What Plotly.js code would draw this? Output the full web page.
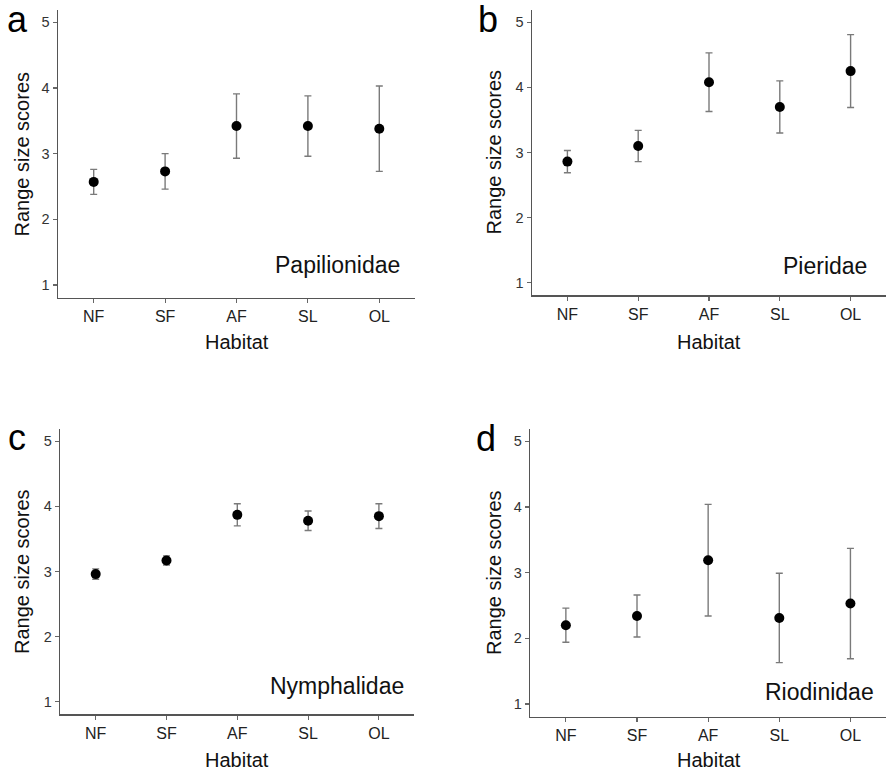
<!DOCTYPE html>
<html>
<head>
<meta charset="utf-8">
<script src="https://cdn.plot.ly/plotly-3.0.1.min.js"></script>
<style>
  html, body { margin: 0; padding: 0; background: #ffffff; }
  #chart { width: 886px; height: 773px; }
</style>
</head>
<body>
<div id="chart"></div>
<script>
// Habitat categories shared by all four panels
const habitats = ['NF', 'SF', 'AF', 'SL', 'OL'];

// Mean range size score per habitat and its error (one per family)
const papilionidaeMean = [2.57, 2.73, 3.42, 3.42, 3.38];
const papilionidaeErr  = [0.19, 0.27, 0.49, 0.46, 0.65];

const pieridaeMean = [2.86, 3.10, 4.08, 3.70, 4.25];
const pieridaeErr  = [0.17, 0.24, 0.45, 0.40, 0.56];

const nymphalidaeMean = [2.96, 3.17, 3.87, 3.78, 3.85];
const nymphalidaeErr  = [0.08, 0.07, 0.17, 0.15, 0.19];

const riodinidaeMean = [2.20, 2.34, 3.19, 2.31, 2.53];
const riodinidaeErr  = [0.26, 0.32, 0.85, 0.68, 0.84];

const yTicks = [1, 2, 3, 4, 5];

const W = 886, H = 773;
const px = v => v / W;          // horizontal pixel -> paper fraction
const py = v => 1 - v / H;      // vertical pixel -> paper fraction

const FONT = 'Arial, "Liberation Sans", Helvetica, sans-serif';

// Panel frames in pixels: [left, right, top, bottom]
const panels = [
  { key: '',  frame: [58, 415, 9.8, 297.5],   mean: papilionidaeMean, err: papilionidaeErr, name: 'Papilionidae', letter: 'a' },
  { key: '2', frame: [532, 886, 9.9, 295.1],  mean: pieridaeMean,     err: pieridaeErr,     name: 'Pieridae',     letter: 'b' },
  { key: '3', frame: [60.3, 414.3, 428.9, 714.1], mean: nymphalidaeMean, err: nymphalidaeErr, name: 'Nymphalidae', letter: 'c' },
  { key: '4', frame: [530.3, 886, 428.8, 716.5],  mean: riodinidaeMean,  err: riodinidaeErr,  name: 'Riodinidae',  letter: 'd' }
];

const traces = panels.map(p => ({
  type: 'scatter',
  mode: 'markers',
  x: habitats,
  y: p.mean,
  xaxis: 'x' + p.key,
  yaxis: 'y' + p.key,
  marker: { color: '#000000', size: 10 },
  error_y: {
    type: 'data',
    array: p.err,
    visible: true,
    color: '#7a7a7a',
    thickness: 1.4,
    width: 3.5
  },
  showlegend: false,
  hoverinfo: 'x+y'
}));

const layout = {
  width: W,
  height: H,
  margin: { l: 0, r: 0, t: 0, b: 0 },
  paper_bgcolor: '#ffffff',
  plot_bgcolor: '#ffffff',
  font: { family: FONT, color: '#222222' },
  showlegend: false,
  annotations: []
};

panels.forEach(p => {
  const [l, r, t, b] = p.frame;
  layout['xaxis' + p.key] = {
    domain: [px(l), px(r)],
    anchor: 'y' + p.key,
    type: 'category',
    range: [-0.5, 4.5],
    showline: true,
    linecolor: '#555555',
    linewidth: 1.5,
    showgrid: false,
    zeroline: false,
    ticks: 'outside',
    ticklen: 4,
    tickwidth: 1.2,
    tickcolor: '#666666',
    tickfont: { size: 16, color: '#222222', family: FONT },
    fixedrange: true
  };
  layout['yaxis' + p.key] = {
    domain: [py(b), py(t)],
    anchor: 'x' + p.key,
    range: [0.81, 5.19],
    tickvals: yTicks,
    showline: true,
    linecolor: '#555555',
    linewidth: 1.5,
    showgrid: false,
    zeroline: false,
    ticks: 'outside',
    ticklen: 4,
    tickwidth: 1.2,
    tickcolor: '#666666',
    tickfont: { size: 14.5, color: '#333333', family: FONT },
    fixedrange: true
  };
});

// Text placements in pixels
const letterPos  = { a: [17, 19.8], b: [488, 19.8], c: [17, 437], d: [486, 438] };
const familyPos  = { Papilionidae: [402, 265.1], Pieridae: [869, 266.4], Nymphalidae: [405.7, 686.4], Riodinidae: [875.7, 692.4] };
const habitatPos = [[236.5, 342.4], [709, 342.4], [237, 760.4], [709, 760.4]];
const yTitlePos  = [[21.5, 154], [493.5, 152], [22, 572], [493.5, 572.5]];

panels.forEach((p, i) => {
  layout.annotations.push({
    xref: 'paper', yref: 'paper',
    x: px(letterPos[p.letter][0]), y: py(letterPos[p.letter][1]),
    xanchor: 'center', yanchor: 'middle',
    text: p.letter, showarrow: false,
    font: { size: 36, color: '#000000', family: FONT }
  });
  layout.annotations.push({
    xref: 'paper', yref: 'paper',
    x: px(familyPos[p.name][0]), y: py(familyPos[p.name][1]),
    xanchor: 'right', yanchor: 'middle',
    text: p.name, showarrow: false,
    font: { size: 23, color: '#111111', family: FONT }
  });
  layout.annotations.push({
    xref: 'paper', yref: 'paper',
    x: px(habitatPos[i][0]), y: py(habitatPos[i][1]),
    xanchor: 'center', yanchor: 'middle',
    text: 'Habitat', showarrow: false,
    font: { size: 20, color: '#111111', family: FONT }
  });
  layout.annotations.push({
    xref: 'paper', yref: 'paper',
    x: px(yTitlePos[i][0]), y: py(yTitlePos[i][1]),
    xanchor: 'center', yanchor: 'middle',
    textangle: -90,
    text: 'Range size scores', showarrow: false,
    font: { size: 20, color: '#111111', family: FONT }
  });
});

Plotly.newPlot('chart', traces, layout, { displayModeBar: false, staticPlot: true });
</script>
</body>
</html>
